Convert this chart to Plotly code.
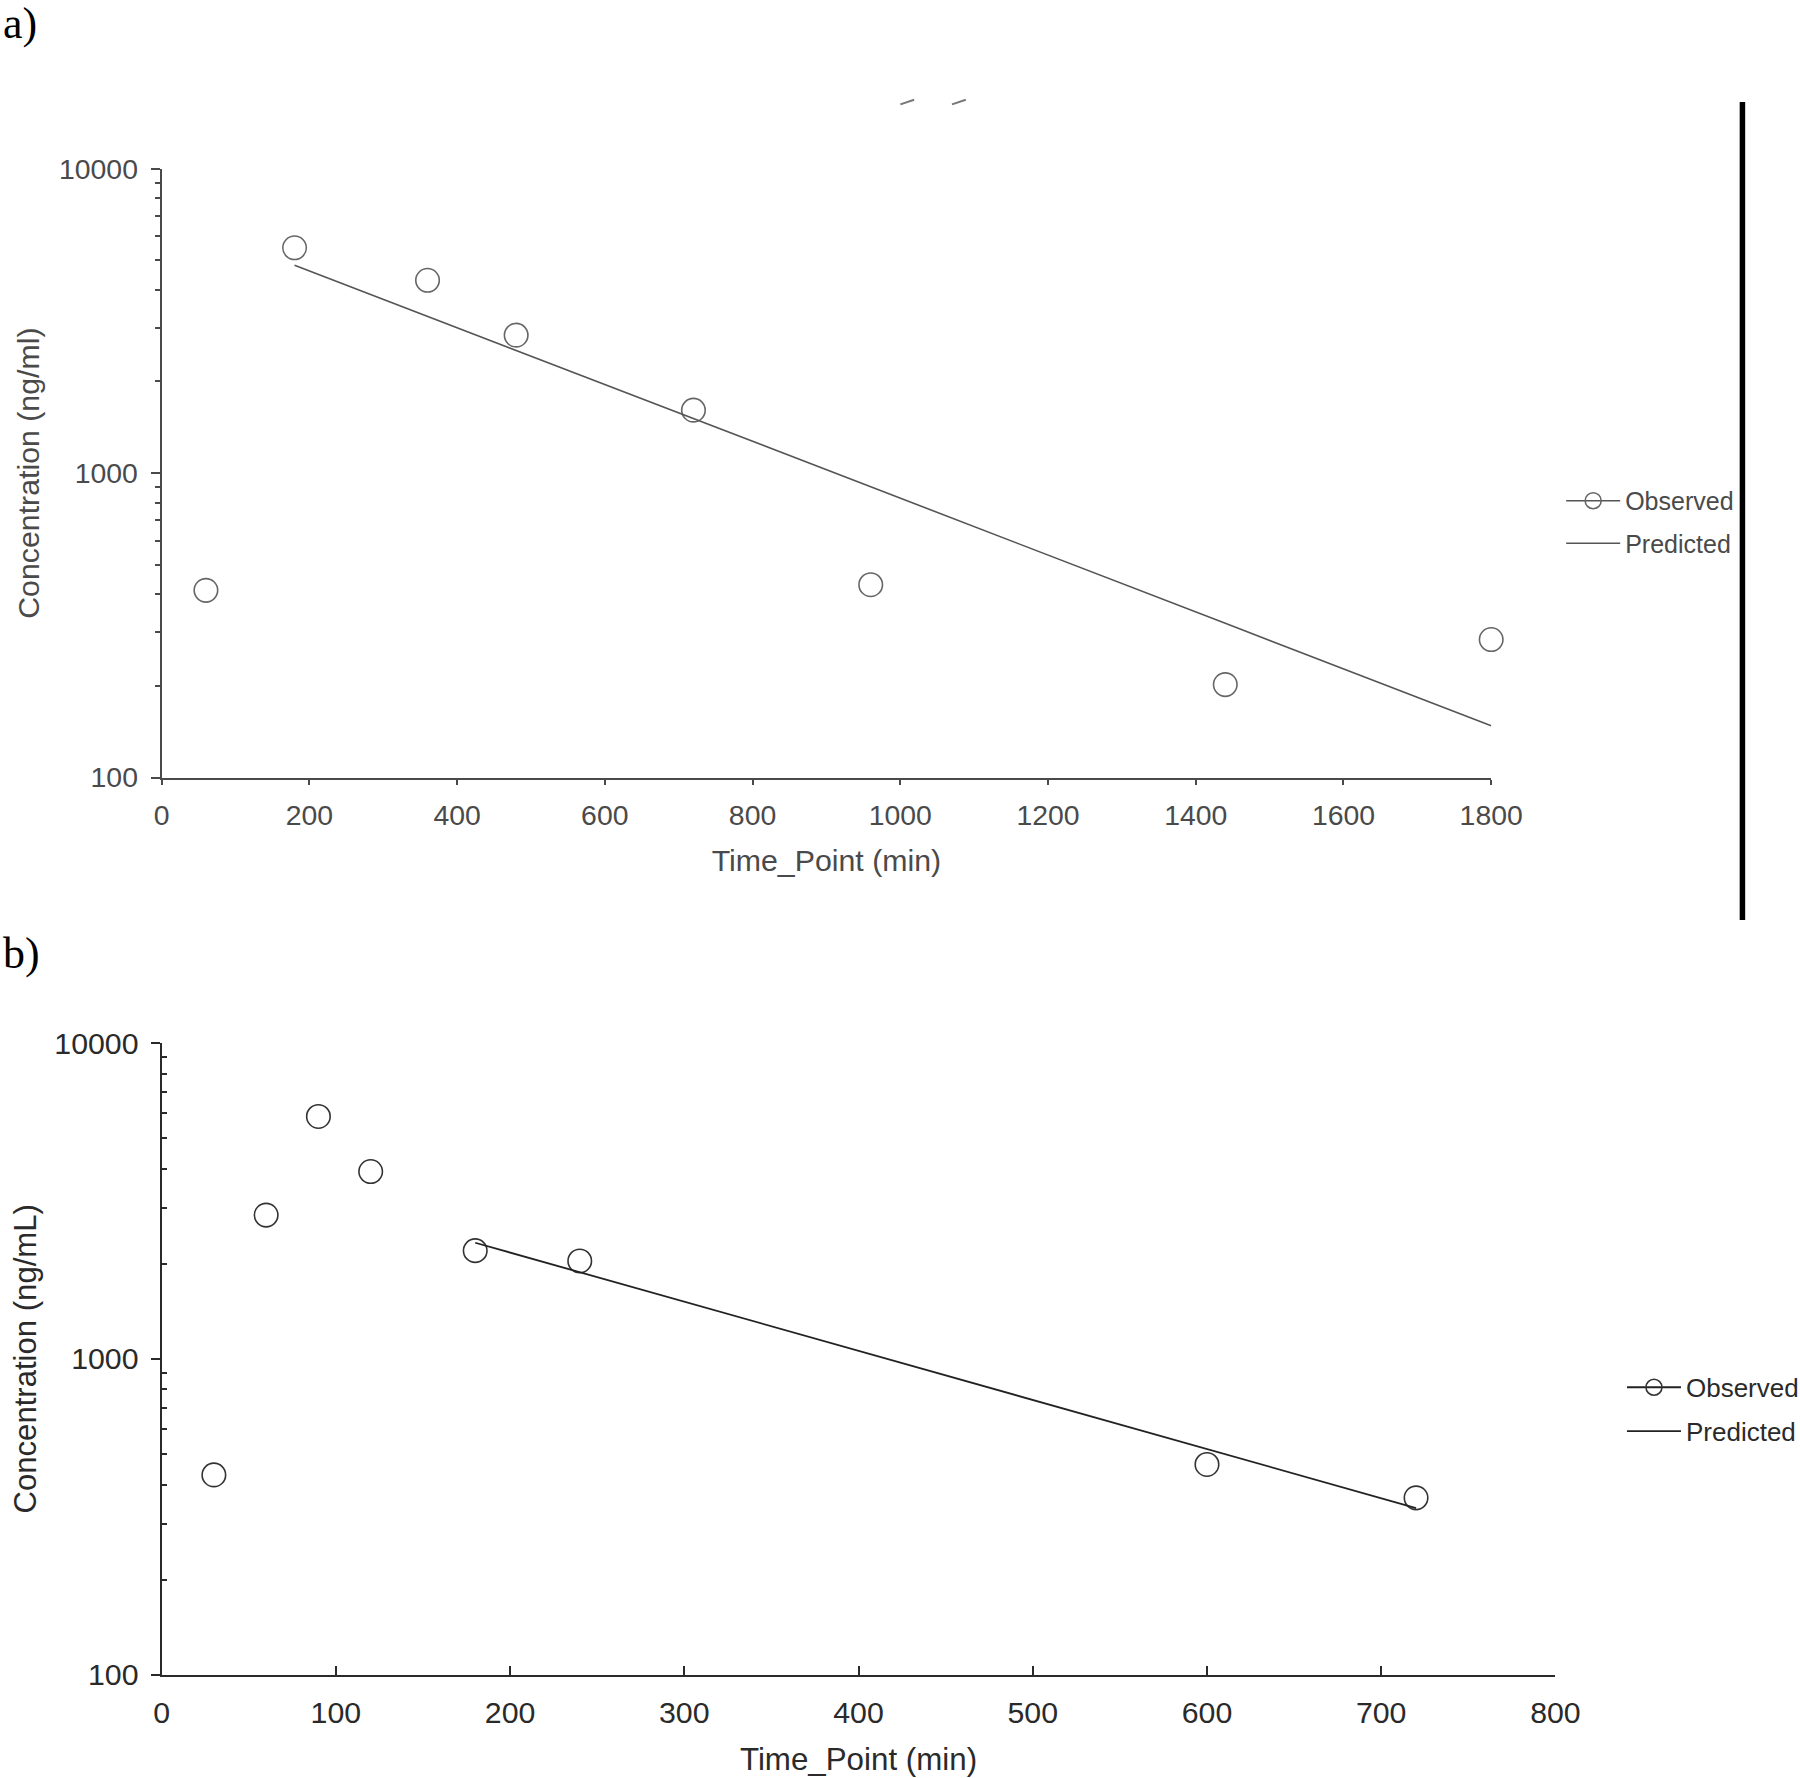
import plotly.graph_objects as go

# ---------------- data: panel a ----------------
a_obs_time = [60, 180, 360, 480, 720, 960, 1440, 1800]
a_obs_conc = [412, 5500, 4300, 2840, 1610, 430, 202, 284]
a_pred_time = [180, 360, 480, 720, 960, 1440, 1800]
a_pred_conc = [4820, 3270, 2530, 1510, 902, 321, 148]
a_xticks = [0, 200, 400, 600, 800, 1000, 1200, 1400, 1600, 1800]

# ---------------- data: panel b ----------------
b_obs_time = [30, 60, 90, 120, 180, 240, 600, 720]
b_obs_conc = [429, 2850, 5850, 3915, 2200, 2040, 463, 363]
b_pred_time = [180, 240, 600, 720]
b_pred_conc = [2330, 1880, 517, 337]
b_xticks = [0, 100, 200, 300, 400, 500, 600, 700, 800]

y_tickvals = [100, 1000, 10000]
y_ticktext = ["100", "1000", "10000"]
y_minor = [m * d for d in (100, 1000) for m in range(2, 10)]

# ---------------- layout helpers ----------------
W, H = 1845, 1815
KX, KY = 0.8528, 0.8547      # measured render scale (view units per px)
SC = 1.021                   # size compensation

def fx(r):
    return (r / KX) / W

def fy(r):
    return 1 - (r / KY) / H

def fs(v):
    return round(v * SC, 1)

FONT = "Liberation Sans"
CA = "#4a4a4a"
CB = "#2a2a2a"
MS = 23.5

fig = go.Figure()

# panel a
fig.add_trace(go.Scatter(x=a_obs_time, y=a_obs_conc, mode="markers", showlegend=False,
                         marker=dict(symbol="circle-open", size=MS, color="#666666", line=dict(width=1.6)),
                         cliponaxis=False, xaxis="x", yaxis="y"))
fig.add_trace(go.Scatter(x=[None], y=[None], mode="lines+markers", name="Observed",
                         marker=dict(symbol="circle-open", size=MS, color="#666666", line=dict(width=1.6)),
                         line=dict(color="#555555", width=1.6), legend="legend", legendgroup="ao",
                         xaxis="x", yaxis="y"))
fig.add_trace(go.Scatter(x=a_pred_time, y=a_pred_conc, mode="lines", name="Predicted",
                         line=dict(color="#555555", width=1.6), legend="legend", legendgroup="ap",
                         cliponaxis=False, xaxis="x", yaxis="y"))

# panel b
fig.add_trace(go.Scatter(x=b_obs_time, y=b_obs_conc, mode="markers", showlegend=False,
                         marker=dict(symbol="circle-open", size=MS, color="#333333", line=dict(width=1.6)),
                         cliponaxis=False, xaxis="x2", yaxis="y2"))
fig.add_trace(go.Scatter(x=[None], y=[None], mode="lines+markers", name="Observed",
                         marker=dict(symbol="circle-open", size=MS, color="#333333", line=dict(width=1.6)),
                         line=dict(color="#222222", width=1.8), legend="legend2", legendgroup="bo",
                         xaxis="x2", yaxis="y2"))
fig.add_trace(go.Scatter(x=b_pred_time, y=b_pred_conc, mode="lines", name="Predicted",
                         line=dict(color="#222222", width=1.8), legend="legend2", legendgroup="bp",
                         cliponaxis=False, xaxis="x2", yaxis="y2"))

dom_a_x = [fx(140), fx(1299)]
dom_a_y = [fy(676), fy(146)]
dom_b_x = [fx(140), fx(1355)]
dom_b_y = [fy(1457), fy(907)]

def xaxis(dom, rng, ticks, color, tfs, tifs, anchor, title, tickdir, lstand, tstand):
    return dict(domain=dom, range=rng, anchor=anchor, tickmode="array", tickvals=ticks,
                ticktext=[str(t) for t in ticks], showgrid=False, zeroline=False,
                showline=True, linecolor=color, linewidth=2, ticks=tickdir,
                ticklen=9 if tickdir == "inside" else 5,
                tickwidth=2, tickcolor=color, ticklabelstandoff=lstand,
                tickfont=dict(family=FONT, size=fs(tfs), color=color),
                title=dict(text=title, font=dict(family=FONT, size=fs(tifs), color=color), standoff=tstand))

def yaxis(dom, color, tfs, tifs, anchor, title, minor_dir, lstand, tstand):
    return dict(domain=dom, type="log", range=[2, 4], anchor=anchor, tickmode="array",
                tickvals=y_tickvals, ticktext=y_ticktext, showgrid=False, zeroline=False,
                showline=True, linecolor=color, linewidth=2, ticks="outside", ticklen=9,
                tickwidth=2, tickcolor=color, ticklabelstandoff=lstand,
                minor=dict(tickvals=y_minor, ticks=minor_dir, ticklen=5, tickwidth=2,
                           tickcolor=color, showgrid=False),
                tickfont=dict(family=FONT, size=fs(tfs), color=color),
                title=dict(text=title, font=dict(family=FONT, size=fs(tifs), color=color), standoff=tstand))

def overlay_y(dom, color, over, anchor):
    return dict(domain=dom, type="log", range=[2, 4], overlaying=over, anchor=anchor, side="left",
                tickmode="array", tickvals=y_tickvals, showticklabels=False, showgrid=False,
                zeroline=False, showline=False, ticks="inside", ticklen=9, tickwidth=2, tickcolor=color,
                minor=dict(tickvals=y_minor, ticks="inside", ticklen=5, tickwidth=2,
                           tickcolor=color, showgrid=False))

fig.update_layout(
    width=W, height=H, margin=dict(l=0, r=0, t=0, b=0),
    paper_bgcolor="white", plot_bgcolor="white",
    xaxis=xaxis(dom_a_x, [0, 1800], a_xticks, CA, 27.8, 29.7, "y", "Time_Point (min)", "outside", 6, 20),
    yaxis=yaxis(dom_a_y, CA, 27.8, 29.7, "x", "Concentration (ng/ml)", "outside", 7, 10),
    yaxis3=overlay_y(dom_a_y, CA, "y", "x"),
    xaxis2=xaxis(dom_b_x, [0, 800], b_xticks, CB, 29.7, 30.7, "y2", "Time_Point (min)", "inside", 10, 20),
    yaxis2=yaxis(dom_b_y, CB, 29.7, 30.5, "x2", "Concentration (ng/mL)", "inside", 6, 8),
    legend=dict(x=fx(1360), y=fy(453.5), xanchor="left", yanchor="middle",
                font=dict(family=FONT, size=fs(24.5), color=CA), tracegroupgap=7,
                traceorder="grouped", bgcolor="rgba(0,0,0,0)", itemwidth=54),
    legend2=dict(x=fx(1413), y=fy(1226), xanchor="left", yanchor="middle",
                 font=dict(family=FONT, size=fs(25.5), color=CB), tracegroupgap=7,
                 traceorder="grouped", bgcolor="rgba(0,0,0,0)", itemwidth=54),
    annotations=[
        dict(text="a)", x=0, y=fy(20), xref="paper", yref="paper", xanchor="left", yanchor="middle",
             showarrow=False, font=dict(family="Liberation Serif", size=fs(43), color="black")),
        dict(text="b)", x=0, y=fy(829), xref="paper", yref="paper", xanchor="left", yanchor="middle",
             showarrow=False, font=dict(family="Liberation Serif", size=fs(43), color="black")),
    ],
    shapes=[
        dict(type="line", xref="paper", yref="paper", x0=fx(1518), x1=fx(1518),
             y0=fy(88), y1=fy(800), line=dict(color="black", width=5.5)),
        dict(type="line", xref="paper", yref="paper", x0=fx(784), x1=fx(796),
             y0=fy(90), y1=fy(86), line=dict(color="#777777", width=2)),
        dict(type="line", xref="paper", yref="paper", x0=fx(829), x1=fx(841),
             y0=fy(90), y1=fy(86), line=dict(color="#777777", width=2)),
    ],
)

fig.write_html(
    "out.html",
    config={"displayModeBar": False},
    post_script=("document.body.style.margin='0';document.body.style.overflow='hidden';"
                 "var d=document.getElementsByClassName('plotly-graph-div')[0];"
                 "d.style.position='absolute';d.style.left='-7px';d.style.top='-15px';"),
)
